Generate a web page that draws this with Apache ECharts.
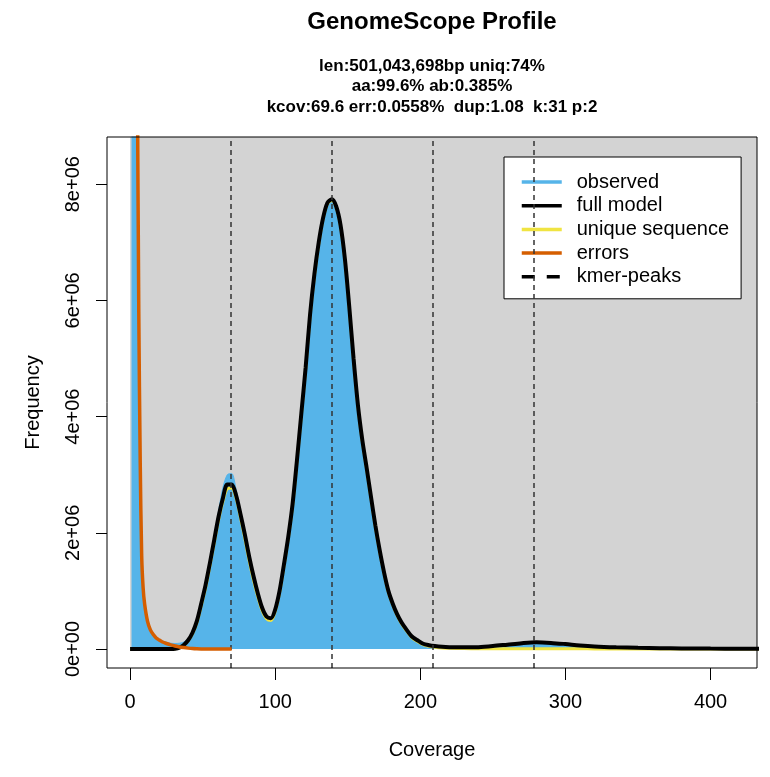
<!DOCTYPE html>
<html>
<head>
<meta charset="utf-8">
<title>GenomeScope Profile</title>
<script src="https://cdn.jsdelivr.net/npm/echarts@6/dist/echarts.min.js"></script>
<style>
  html, body { margin: 0; padding: 0; background: #fff; }
  #chart { width: 770px; height: 777px; }
</style>
</head>
<body>
<div id="chart"></div>
<script>
// k-mer coverage (x) and frequencies in millions (y)
const coverage = [0, 1, 2, 3, 4, 5, 6, 7, 8, 9, 10, 12, 14, 16, 18, 20, 22, 25, 28, 31,
  34, 37, 40, 43, 46, 49, 52, 55, 58, 61, 64, 67, 70, 73, 76, 79, 82, 85, 88, 91,
  94, 97, 100, 103, 106, 109, 112, 115, 118, 121, 124, 127, 130, 133, 136, 139, 142, 145, 148, 151,
  154, 157, 160, 163, 166, 169, 172, 175, 178, 181, 184, 187, 190, 194, 198, 202, 206, 210, 215, 220,
  230, 240, 250, 260, 270, 280, 290, 300, 310, 320, 335, 350, 365, 380, 400, 420, 440];

const observed = [null, 60, 32, 18, 12, 8.6, 5.6, 3.3, 1.7, 1.12, 0.82, 0.52, 0.36, 0.27, 0.21, 0.17, 0.14, 0.12, 0.1, 0.095,
  0.1, 0.12, 0.18, 0.29, 0.48, 0.78, 1.1, 1.5, 1.92, 2.38, 2.78, 3.0, 3.02, 2.75, 2.36, 1.98, 1.6, 1.26, 0.97, 0.72,
  0.57, 0.55, 0.7, 1.02, 1.46, 1.94, 2.5, 3.26, 4.05, 4.85, 5.75, 6.45, 7.0, 7.42, 7.68, 7.74, 7.62, 7.3, 6.72, 5.9,
  5.0, 4.2, 3.6, 3.12, 2.62, 2.13, 1.7, 1.32, 1.0, 0.78, 0.6, 0.46, 0.35, 0.22, 0.15, 0.095, 0.07, 0.055, 0.042, 0.036,
  0.032, 0.036, 0.054, 0.08, 0.104, 0.118, 0.108, 0.088, 0.065, 0.048, 0.032, 0.022, 0.015, 0.011, 0.008, 0.006, 0.005];

const fullModel = [0, 0, 0, 0, 0, 0, 0, 0, 0, 0, 0, 0, 0, 0, 0, 0, 0, 0, 0, 0.005,
  0.025, 0.07, 0.15, 0.28, 0.48, 0.78, 1.1, 1.48, 1.88, 2.28, 2.6, 2.83, 2.83, 2.65, 2.33, 1.98, 1.6, 1.26, 0.96, 0.71,
  0.56, 0.53, 0.68, 1.0, 1.45, 1.93, 2.5, 3.25, 4.05, 4.85, 5.75, 6.45, 7.0, 7.42, 7.68, 7.74, 7.62, 7.3, 6.72, 5.9,
  5.0, 4.2, 3.6, 3.12, 2.62, 2.13, 1.7, 1.32, 1.0, 0.78, 0.6, 0.46, 0.35, 0.22, 0.15, 0.09, 0.065, 0.05, 0.038, 0.032,
  0.028, 0.032, 0.05, 0.075, 0.1, 0.115, 0.105, 0.085, 0.062, 0.045, 0.03, 0.02, 0.014, 0.01, 0.007, 0.005, 0.004];

const uniqueSeq = [0, 0, 0, 0, 0, 0, 0, 0, 0, 0, 0, 0, 0, 0, 0, 0, 0, 0, 0, 0.004,
  0.022, 0.065, 0.14, 0.26, 0.45, 0.74, 1.05, 1.43, 1.83, 2.22, 2.54, 2.76, 2.77, 2.6, 2.27, 1.91, 1.53, 1.19, 0.9, 0.66,
  0.52, 0.49, 0.65, 0.97, 1.42, 1.9, 2.47, 3.22, 4.02, 4.82, 5.72, 6.42, 6.97, 7.4, 7.66, 7.72, 7.6, 7.28, 6.7, 5.88,
  4.98, 4.18, 3.58, 3.1, 2.6, 2.11, 1.68, 1.3, 0.98, 0.76, 0.58, 0.44, 0.33, 0.2, 0.13, 0.075, 0.045, 0.03, 0.018, 0.012,
  0.007, 0.005, 0.004, 0.004, 0.004, 0.004, 0.003, 0.003, 0.003, 0.002, 0.002, 0.002, 0.001, 0.001, 0.001, 0.001, 0.001];

const errors = [null, 80, 40, 24, 15, 10, 5.8, 3.2, 1.6, 1.05, 0.78, 0.48, 0.33, 0.25, 0.19, 0.155, 0.125, 0.095, 0.072, 0.052,
  0.035, 0.024, 0.015, 0.008, 0.004, 0.002, 0.001, 0, 0, 0, 0, 0, 0];

const kmerPeaks = [69.6, 139.2, 208.8, 278.4];

const xTicks = [0, 100, 200, 300, 400];
const yTicks = [0, 2, 4, 6, 8];
const yTickLabels = ['0e+00', '2e+06', '4e+06', '6e+06', '8e+06'];

const subtitleLines = [
  'len:501,043,698bp uniq:74%',
  'aa:99.6% ab:0.385%',
  'kcov:69.6 err:0.0558%  dup:1.08  k:31 p:2'
];

const X_MIN = -15.9, X_MAX = 432;
const Y_MIN = -0.327, Y_MAX = 8.812;

const blue = '#56B4E9', yellow = '#F0E442', orange = '#D55E00', grey = '#D3D3D3';

function pairs(vals) {
  const out = [];
  vals.forEach((v, i) => {
    if (v !== null && v !== undefined) out.push([coverage[i], v]);
  });
  return out;
}

const myChart = echarts.init(document.getElementById('chart'));

myChart.setOption({
  animation: false,
  textStyle: { fontFamily: 'Liberation Sans, Arial, sans-serif', color: '#000' },
  title: [
    {
      text: 'GenomeScope Profile',
      left: 432, top: 10, padding: 0,
      textAlign: 'center',
      textStyle: { fontSize: 24, fontWeight: 'bold', color: '#000' }
    },
    {
      text: subtitleLines.join('\n'),
      left: 432, top: 56, padding: 0,
      textAlign: 'center',
      textStyle: { fontSize: 17, fontWeight: 'bold', color: '#000', lineHeight: 20.5 }
    }
  ],
  legend: {
    orient: 'vertical',
    left: 504, top: 157,
    padding: [15, 12, 12, 16],
    itemGap: 3.7,
    itemWidth: 40,
    itemHeight: 14,
    backgroundColor: '#fff',
    borderColor: '#000',
    borderWidth: 1,
    borderRadius: 0,
    itemStyle: { opacity: 0 },
    lineStyle: { width: 3.5 },
    textStyle: { fontSize: 20, lineHeight: 20, color: '#000', padding: [0, 0, 0, 10] },
    data: ['observed', 'full model', 'unique sequence', 'errors', 'kmer-peaks']
  },
  grid: {
    left: 107, right: 13, top: 137, bottom: 109,
    show: true, borderColor: '#000', borderWidth: 1, z: 10
  },
  xAxis: {
    type: 'value',
    min: X_MIN, max: X_MAX,
    name: 'Coverage', nameLocation: 'middle', nameGap: 72,
    nameTextStyle: { fontSize: 20, color: '#000' },
    axisLine: { show: false, onZero: false },
    splitLine: { show: false },
    axisTick: { show: true, length: 12, customValues: xTicks, lineStyle: { color: '#000' } },
    axisLabel: { customValues: xTicks, fontSize: 20, color: '#000', margin: 24 }
  },
  yAxis: {
    type: 'value',
    min: Y_MIN, max: Y_MAX,
    name: 'Frequency', nameLocation: 'middle', nameGap: 64,
    nameTextStyle: { fontSize: 20, color: '#000' },
    axisLine: { show: false, onZero: false },
    splitLine: { show: false },
    axisTick: { show: true, length: 11, customValues: yTicks, lineStyle: { color: '#000' } },
    axisLabel: {
      customValues: yTicks, fontSize: 20, color: '#000', margin: 24, rotate: 90,
      formatter: v => yTickLabels[yTicks.indexOf(v)]
    }
  },
  series: [
    {
      name: 'observed', type: 'line', data: pairs(observed),
      symbol: 'none', z: 2, color: blue, smooth: 0.3,
      lineStyle: { color: blue, width: 1 },
      areaStyle: { color: blue, opacity: 1 },
      markArea: {
        silent: true,
        itemStyle: { color: grey },
        data: [[{ coord: [0, 0] }, { coord: [X_MAX, Y_MAX] }]]
      }
    },
    {
      name: 'unique sequence', type: 'line', data: pairs(uniqueSeq),
      symbol: 'none', z: 3, color: yellow, smooth: 0.3,
      lineStyle: { color: yellow, width: 3 }
    },
    {
      name: 'full model', type: 'line', data: pairs(fullModel),
      symbol: 'none', z: 4, color: '#000', smooth: 0.3,
      lineStyle: { color: '#000', width: 4 }
    },
    {
      name: 'errors', type: 'line', data: pairs(errors),
      symbol: 'none', z: 5, color: orange, smooth: 0.3,
      lineStyle: { color: orange, width: 3.5 }
    },
    {
      name: 'kmer-peaks', type: 'line', data: [],
      symbol: 'none', z: 6, color: '#000',
      lineStyle: { color: '#000', width: 3, type: [13, 12] },
      markLine: {
        silent: true, symbol: 'none',
        label: { show: false },
        lineStyle: { color: '#333', width: 1.5, type: [5, 4] },
        data: kmerPeaks.map(v => ({ xAxis: v }))
      }
    }
  ]
});
</script>
</body>
</html>
